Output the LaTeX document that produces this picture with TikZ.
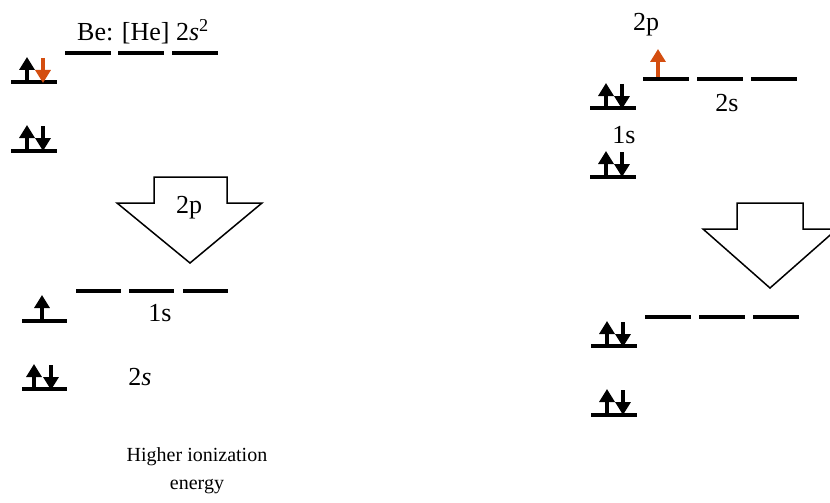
\documentclass[tikz,border=0pt]{standalone}
\usepackage{fontspec}
\setmainfont{Liberation Serif}
\usetikzlibrary{arrows.meta}
\definecolor{eorange}{RGB}{212,78,16}
\tikzset{
  lvl/.style={line width=3.6pt},
  spinup/.style={line width=3.6pt,-{Triangle[width=15pt,length=13pt]}},
  bigarrow/.style={draw=black,line width=1.5pt,fill=white,line join=miter},
  lbl/.style={font=\fontsize{26}{30}\selectfont,inner sep=0pt},
  lblbe/.style={font=\fontsize{26}{30}\selectfont,inner sep=0pt},
  lblhi/.style={font=\fontsize{20}{28}\selectfont,inner sep=0pt},
}
\begin{document}
\begin{tikzpicture}[x=1pt,y=-1pt]
\useasboundingbox (0,0) rectangle (830,503);
\clip (0,0) rectangle (830,503);

% ---------------- left diagram ----------------
\node[lblbe] (be) at (143,32) {Be: [He] 2\textit{s}\textsuperscript{2}};
% top three 2p lines
\draw[lvl] (65,53) -- (111,53);
\draw[lvl] (118,53) -- (164,53);
\draw[lvl] (172,53) -- (218,53);
% orbital with up (black) + down (orange)
\draw[lvl] (11,82) -- (57,82);
\coordinate (a1b) at (27,82); \coordinate (a1t) at (27,57);
\draw[spinup] (a1b) -- (a1t);
\coordinate (a2t) at (43,58); \coordinate (a2b) at (43,83);
\draw[spinup,eorange] (a2t) -- (a2b);
% second orbital
\draw[lvl] (11,151) -- (57,151);
\coordinate (b1b) at (27,151); \coordinate (b1t) at (27,125);
\draw[spinup] (b1b) -- (b1t);
\coordinate (b2t) at (43,126); \coordinate (b2b) at (43,151);
\draw[spinup] (b2t) -- (b2b);

% big arrow
\draw[bigarrow] (154,177) -- (227,177) -- (227,203) -- (262,203) -- (190,263)
  -- (117,203) -- (154,203) -- cycle;
\node[lbl] (p2l) at (189,208) {2p};

% lower three lines
\draw[lvl] (76,291) -- (121,291);
\draw[lvl] (129,291) -- (174,291);
\draw[lvl] (183,291) -- (228,291);
\node[lbl] (s1l) at (160,313) {1s};
% single up orbital
\draw[lvl] (22,321) -- (67,321);
\coordinate (c1b) at (42,321); \coordinate (c1t) at (42,295);
\draw[spinup] (c1b) -- (c1t);
% paired orbital
\draw[lvl] (22,389) -- (67,389);
\coordinate (d1b) at (34,389); \coordinate (d1t) at (34,364);
\draw[spinup] (d1b) -- (d1t);
\coordinate (d2t) at (51,365); \coordinate (d2b) at (51,390);
\draw[spinup] (d2t) -- (d2b);
\node[lbl] (s2l) at (140,377) {2\textit{s}};

\node[lblhi,align=center] (hie) at (197,471) {Higher ionization\\energy};

% ---------------- right diagram ----------------
\node[lbl] (p2r) at (646,25) {2p};
\coordinate (e1b) at (658,77); \coordinate (e1t) at (658,49);
\draw[spinup,eorange] (e1b) -- (e1t);
\draw[lvl] (643,79) -- (689,79);
\draw[lvl] (697,79) -- (743,79);
\draw[lvl] (751,79) -- (797,79);
\node[lbl] (s2r) at (727,103) {2s};
% orbital 1
\draw[lvl] (590,108) -- (636,108);
\coordinate (f1b) at (606,108); \coordinate (f1t) at (606,83);
\draw[spinup] (f1b) -- (f1t);
\coordinate (f2t) at (622,84); \coordinate (f2b) at (622,109);
\draw[spinup] (f2t) -- (f2b);
\node[lbl] (s1r) at (624,135) {1s};
% orbital 2
\draw[lvl] (590,177) -- (636,177);
\coordinate (g1b) at (606,177); \coordinate (g1t) at (606,151);
\draw[spinup] (g1b) -- (g1t);
\coordinate (g2t) at (622,152); \coordinate (g2b) at (622,177);
\draw[spinup] (g2t) -- (g2b);

% big arrow right (partly cut off)
\draw[bigarrow] (737,203) -- (803,203) -- (803,229) -- (837,229) -- (770,288)
  -- (703,229) -- (737,229) -- cycle;

% lower three lines
\draw[lvl] (645,317) -- (691,317);
\draw[lvl] (699,317) -- (745,317);
\draw[lvl] (753,317) -- (799,317);
% orbital 3
\draw[lvl] (591,346) -- (637,346);
\coordinate (h1b) at (607,346); \coordinate (h1t) at (607,321);
\draw[spinup] (h1b) -- (h1t);
\coordinate (h2t) at (623,322); \coordinate (h2b) at (623,347);
\draw[spinup] (h2t) -- (h2b);
% orbital 4
\draw[lvl] (591,415) -- (637,415);
\coordinate (i1b) at (607,415); \coordinate (i1t) at (607,389);
\draw[spinup] (i1b) -- (i1t);
\coordinate (i2t) at (623,390); \coordinate (i2b) at (623,415);
\draw[spinup] (i2t) -- (i2b);
\end{tikzpicture}
\end{document}
